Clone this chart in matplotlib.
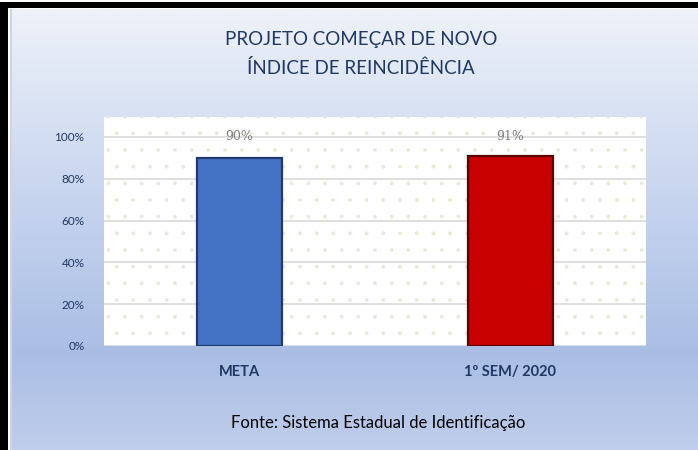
import numpy as np
import matplotlib
matplotlib.use("Agg")
import matplotlib.pyplot as plt
from matplotlib.patches import Rectangle
from matplotlib.colors import LinearSegmentedColormap
from matplotlib.ticker import PercentFormatter

# data
categories = ['META', '1º SEM/ 2020']
values = [0.90, 0.91]
bar_colors = ['#4472c4', '#c80000']
edge_colors = ['#1f3a70', '#5a0000']
yticks = [0, 0.2, 0.4, 0.6, 0.8, 1.0]

plt.rcParams['font.family'] = ['Lato', 'DejaVu Sans']
plt.rcParams['hatch.linewidth'] = 0.3

W, H = 698, 450
fig = plt.figure(figsize=(W / 100, H / 100), dpi=100)
fig.patch.set_facecolor('white')

# chart background (vertical gradient)
bg = fig.add_axes([12 / W, 0, 1 - 12 / W, 1 - 9 / H], zorder=0)
bg_cmap = LinearSegmentedColormap.from_list(
    'bg', [(0, '#bfcdeb'), (0.22, '#aabee4'), (0.55, '#c5d3ee'), (1, '#eef2f9')])
grad = np.linspace(0, 1, 256).reshape(-1, 1)
bg.imshow(grad, aspect='auto', cmap=bg_cmap, origin='lower', extent=[0, 1, 0, 1])
bg.set_axis_off()

# black frame pieces top and left
fig.patches.append(Rectangle((0, 1 - 8 / H), 1, 6 / H, transform=fig.transFigure,
                             facecolor='black', edgecolor='none', zorder=5))
fig.patches.append(Rectangle((0, 0), 8 / W, 1 - 2 / H, transform=fig.transFigure,
                             facecolor='black', edgecolor='none', zorder=5))
fig.patches.append(Rectangle((10 / W, 0), 2 / W, 1 - 9 / H, transform=fig.transFigure,
                             facecolor='#d0d4dc', edgecolor='none', zorder=5))

# plot area
left, right = 104, 646
top, bottom = 117, 346
ax = fig.add_axes([left / W, 1 - bottom / H, (right - left) / W, (bottom - top) / H], zorder=2)
ax.set_facecolor('white')
x = np.arange(len(categories)) + 0.5
ax.set_xlim(0, 2)
ax.set_ylim(0, 1.095)

# faint dotted pattern of the plot area
ax.add_patch(Rectangle((0, 0), 2, 1.095, facecolor='none', edgecolor='#e4ebd8',
                       hatch='.', linewidth=0, zorder=0))

for yv in yticks:
    ax.axhline(yv, color='#d9d9d9', linewidth=1.2, zorder=1)

bars = ax.bar(x, values, width=0.31, color=bar_colors, edgecolor=edge_colors,
              linewidth=1.6, zorder=3)
for b, v in zip(bars, values):
    ax.text(b.get_x() + b.get_width() / 2, 1.0, f'{v:.0%}', ha='center', va='center',
            fontsize=9, color='#7f7f7f', family=['DejaVu Serif'], zorder=4)

ax.set_yticks(yticks)
ax.yaxis.set_major_formatter(PercentFormatter(1.0, decimals=0))
ax.tick_params(axis='y', length=0, labelsize=8.5, labelcolor='#1f3864', pad=14)
ax.set_xticks(x)
ax.set_xticklabels(categories)
ax.tick_params(axis='x', length=0, labelsize=10.5, labelcolor='#1f3864', pad=14)
for lab in ax.get_xticklabels():
    lab.set_fontweight('bold')
for s in ax.spines.values():
    s.set_visible(False)

fig.text(0.517, 1 - 40 / H, 'PROJETO COMEÇAR DE NOVO', ha='center', va='center',
         fontsize=13.5, color='#1f3864')
fig.text(0.517, 1 - 68 / H, 'ÍNDICE DE REINCIDÊNCIA', ha='center', va='center',
         fontsize=13.5, color='#1f3864')
fig.text(0.542, 1 - 423 / H, 'Fonte: Sistema Estadual de Identificação', ha='center',
         va='center', fontsize=12, color='black')

fig.savefig('out.png', dpi=100)
